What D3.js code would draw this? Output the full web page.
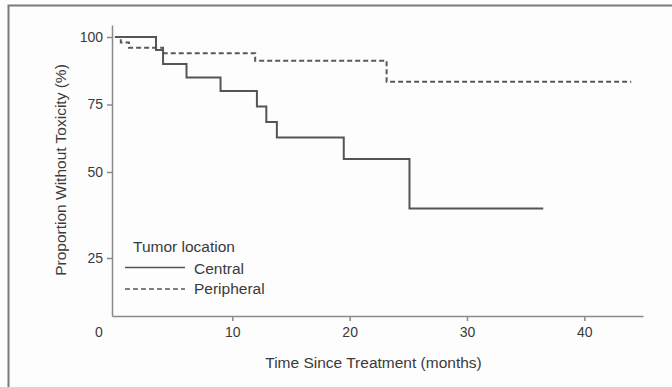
<!DOCTYPE html>
<html>
<head>
<meta charset="utf-8">
<script src="https://cdn.jsdelivr.net/npm/d3@7"></script>
<style>
  body { margin: 0; background: #fdfdfd; }
  text { font-family: "Liberation Sans", Arial, sans-serif; fill: #3a3a3a; }
</style>
</head>
<body>
<div id="chart"></div>
<script>
// Kaplan-Meier style step data (months, % without toxicity)
var centralTime = [0, 3.5, 4.1, 6.1, 9.0, 12.1, 12.9, 13.8, 19.5, 25.1, 36.5];
var centralSurv = [100, 95.2, 90, 85, 80, 74.3, 68.5, 62.8, 54.8, 39.4, 39.4];
var periphTime = [0, 0.5, 1.2, 4.1, 11.95, 23.15, 44.0];
var periphSurv = [100, 98, 96, 94, 91.2, 83.4, 83.4];
var xTicks = [10, 20, 30, 40];
var yTicks = [25, 50, 75, 100];
var legendNames = ["Central", "Peripheral"];

var width = 672, height = 387;

var svg = d3.select("#chart")
  .append("svg")
  .attr("width", width)
  .attr("height", height);

// outer frame (right and bottom fall off the picture)
svg.append("rect")
  .attr("x", 8.5).attr("y", 5.5)
  .attr("width", 700).attr("height", 400)
  .attr("fill", "none")
  .attr("stroke", "#7a7a7a")
  .attr("stroke-width", 2);

var x = d3.scaleLinear()
  .domain([-0.25, 45])
  .range([112, 643]);

// the printed y axis is not evenly spaced below 50
var y = d3.scaleLinear()
  .domain([8.1, 25, 50, 100, 104.4])
  .range([316, 258, 172, 37, 25]);

// X axis
var xAxis = svg.append("g")
  .attr("transform", "translate(0,316)")
  .call(d3.axisBottom(x).tickValues(xTicks).tickSize(5).tickSizeOuter(0).tickPadding(6));
xAxis.selectAll("text").style("font-size", "14px");

// the "0" label sits a little left of the axis start
xAxis.append("text")
  .attr("x", x(0) - 16)
  .attr("y", 11)
  .attr("dy", "0.71em")
  .attr("text-anchor", "middle")
  .style("font-size", "14px")
  .text("0");

// Y axis
var yAxis = svg.append("g")
  .attr("transform", "translate(112,0)")
  .call(d3.axisLeft(y).tickValues(yTicks).tickSize(5).tickSizeOuter(0).tickPadding(4));
yAxis.selectAll("text").style("font-size", "14px");

svg.selectAll(".domain, .tick line")
  .attr("stroke", "#8a8a8a")
  .attr("stroke-width", 1.5);
svg.selectAll(".tick text").attr("fill", "#3a3a3a").style("font-family", "Liberation Sans, Arial, sans-serif");

// axis titles
svg.append("text")
  .attr("x", 373.5)
  .attr("y", 368)
  .attr("text-anchor", "middle")
  .style("font-size", "15.5px")
  .text("Time Since Treatment (months)");

svg.append("text")
  .attr("transform", "translate(66,170)rotate(-90)")
  .attr("text-anchor", "middle")
  .style("font-size", "15.5px")
  .text("Proportion Without Toxicity (%)");

// curves
var line = d3.line()
  .x(d => x(d[0]))
  .y(d => y(d[1]))
  .curve(d3.curveStepAfter);

var central = centralTime.map((t, i) => [t, centralSurv[i]]);
var periph = periphTime.map((t, i) => [t, periphSurv[i]]);

svg.append("path")
  .datum(periph)
  .attr("d", line)
  .attr("fill", "none")
  .attr("stroke", "#5a5a5a")
  .attr("stroke-width", 2)
  .attr("stroke-dasharray", "5,3");

svg.append("path")
  .datum(central)
  .attr("d", line)
  .attr("fill", "none")
  .attr("stroke", "#555")
  .attr("stroke-width", 2);

// legend
var legend = svg.append("g");
legend.append("text")
  .attr("x", 133).attr("y", 252)
  .style("font-size", "15.5px")
  .text("Tumor location");

legend.selectAll("line.key")
  .data(legendNames)
  .enter()
  .append("line")
  .attr("x1", 125).attr("x2", 185)
  .attr("y1", (d, i) => 267.5 + i * 21.5)
  .attr("y2", (d, i) => 267.5 + i * 21.5)
  .attr("stroke", "#555")
  .attr("stroke-width", 1.5)
  .attr("stroke-dasharray", (d, i) => i === 0 ? null : "5,3");

legend.selectAll("text.key")
  .data(legendNames)
  .enter()
  .append("text")
  .attr("x", 194)
  .attr("y", (d, i) => 274 + i * 19.5)
  .style("font-size", "15.5px")
  .text(d => d);
</script>
</body>
</html>
